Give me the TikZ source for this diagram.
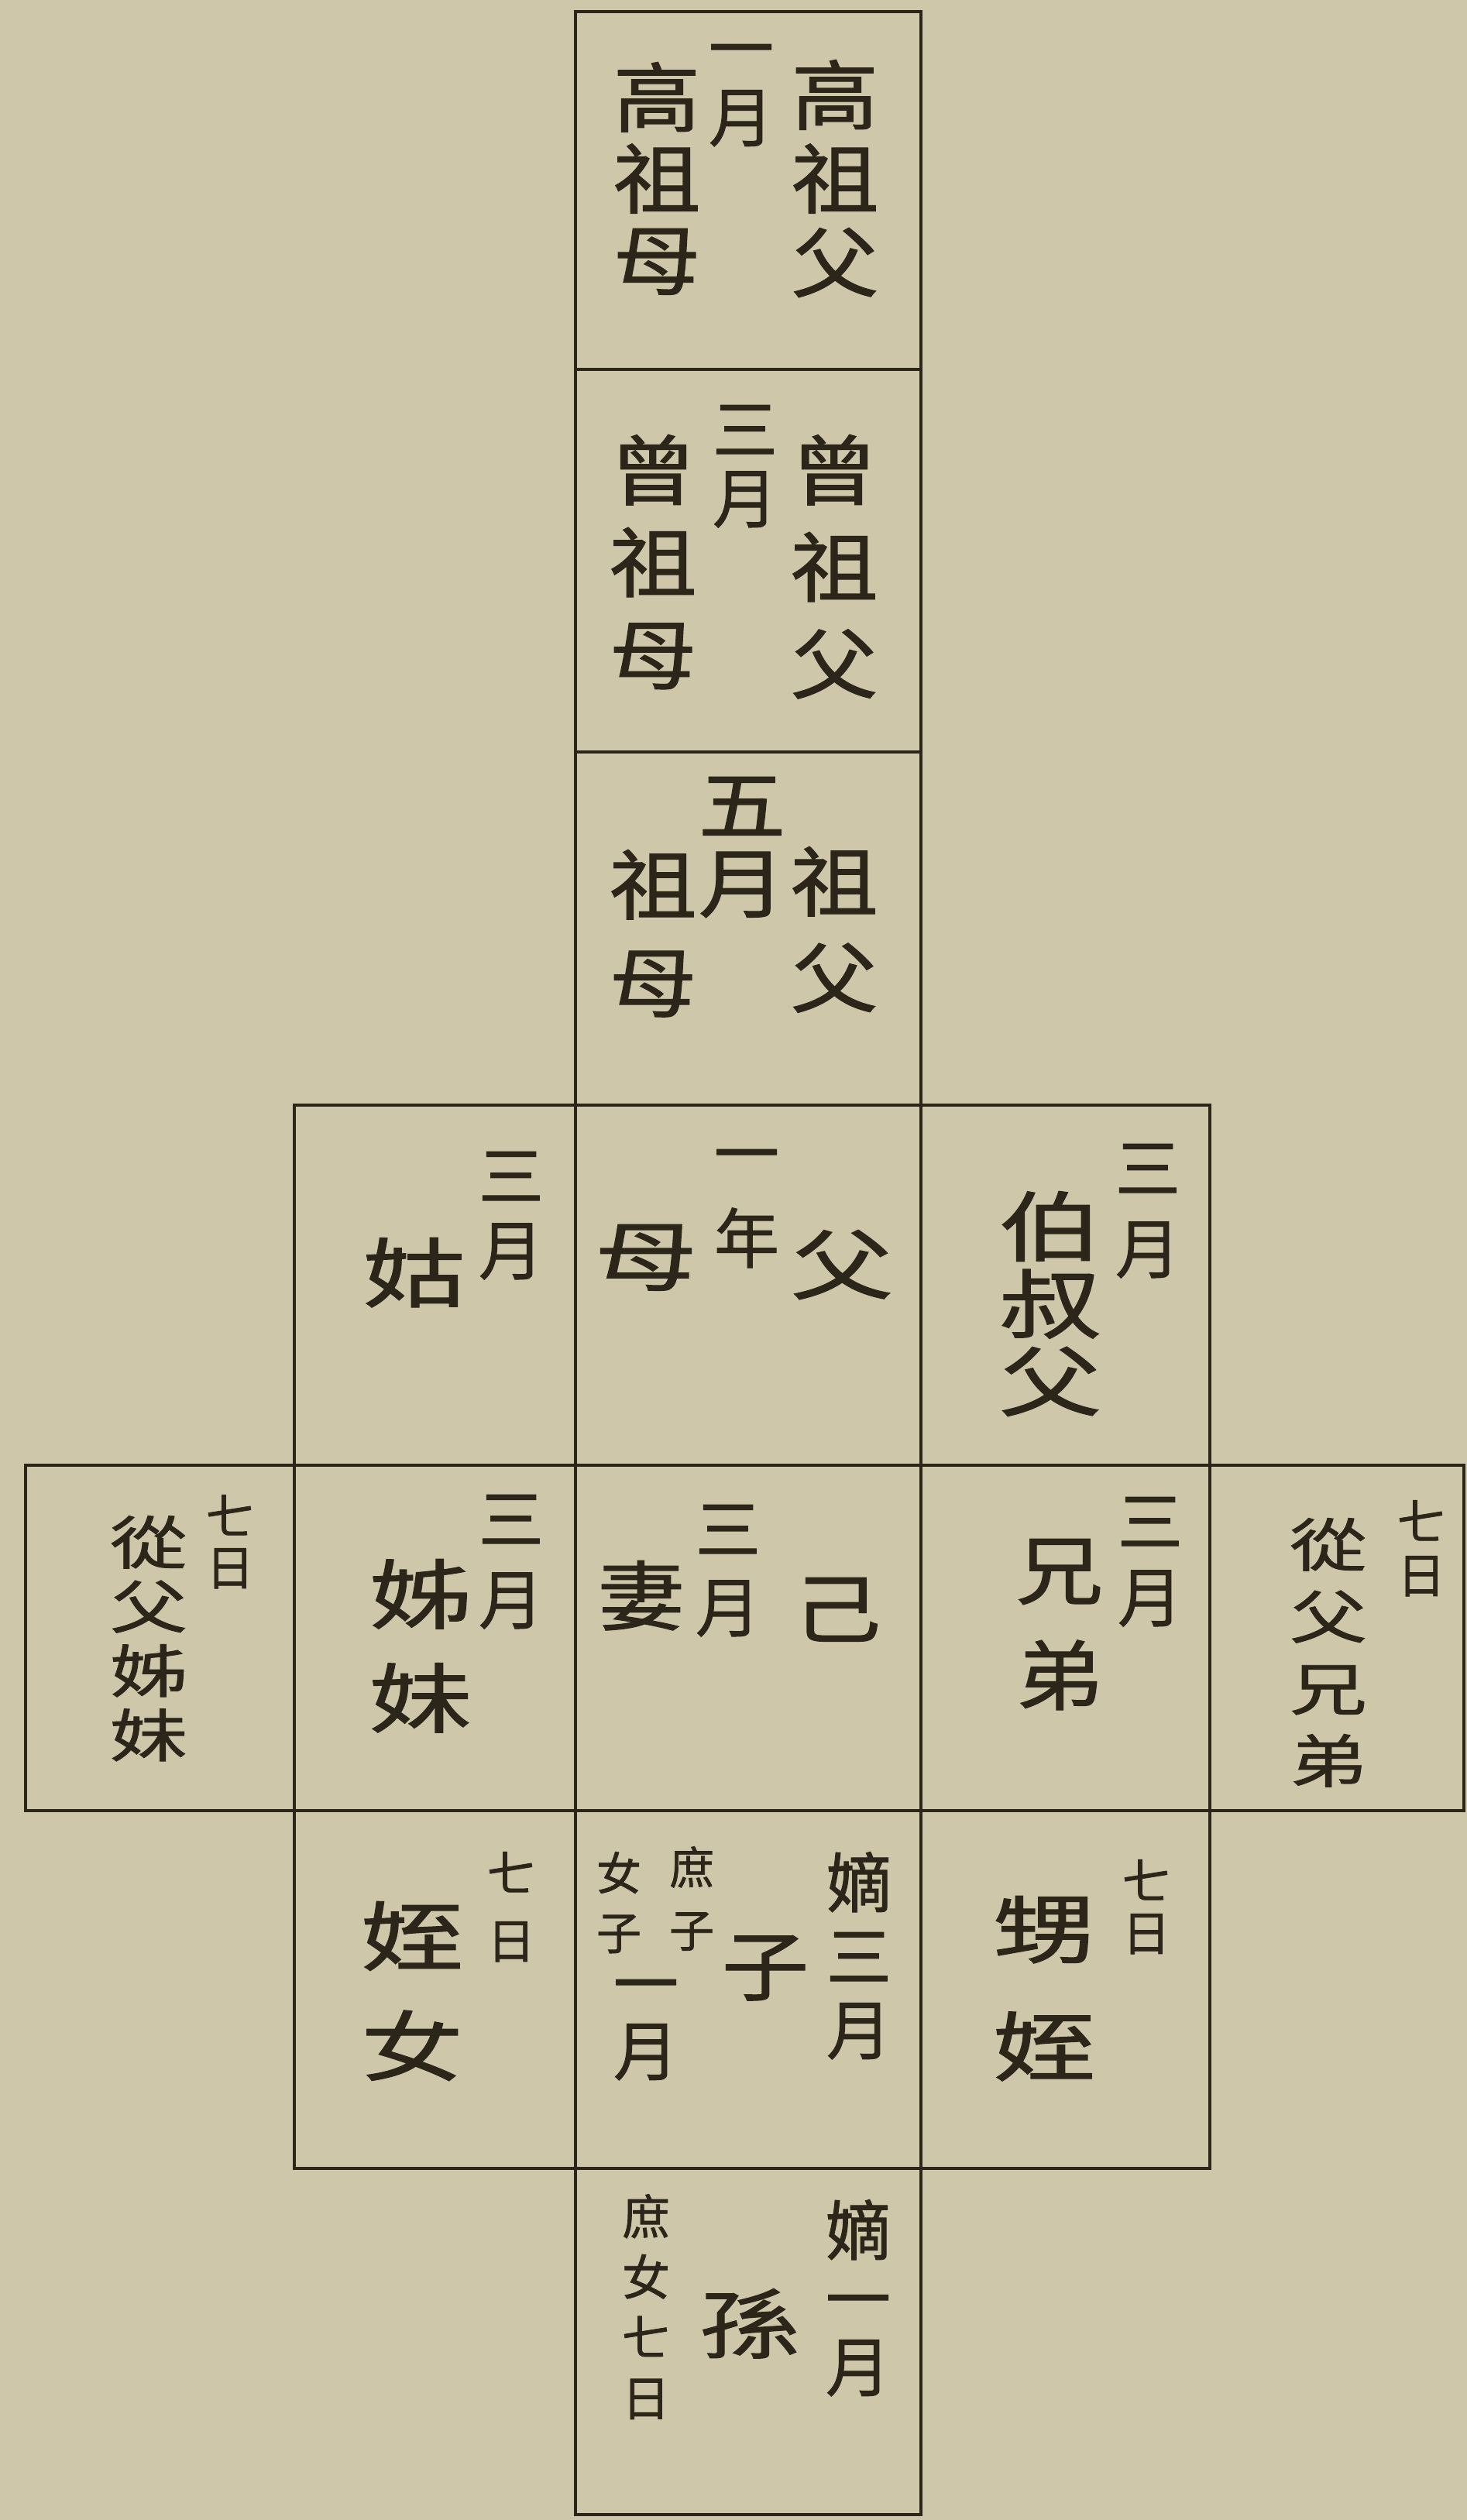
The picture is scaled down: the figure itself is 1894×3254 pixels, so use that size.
\documentclass[tikz,border=0pt]{standalone}
\usepackage{fontspec}
\newfontfamily\cjk{Noto Sans CJK TC}[FakeStretch=1.15,FakeBold=1.2]
\newfontfamily\cjkw{Noto Sans CJK TC}[FakeStretch=1.35,FakeBold=1.2]
\newfontfamily\cjkn{Noto Sans CJK TC}[FakeBold=1.2]
\definecolor{paper}{RGB}{206,199,170}
\definecolor{ink}{RGB}{44,38,26}

\tikzset{
  cell/.style={draw=ink, line width=4pt},
  col/.style={anchor=north, align=center, inner sep=0pt, text=ink},
  rel/.style={col, font=\cjk\fontsize{98}{#1}\selectfont},
  rel/.default=106,
  broad/.style={col, font=\cjkw\fontsize{98}{#1}\selectfont},
  broad/.default=106,
  kin/.style={col, font=\cjkw\fontsize{74}{#1}\selectfont},
  term/.style={col, font=\cjkn\fontsize{84}{#1}\selectfont},
  term/.default=96,
  day/.style={col, font=\cjkn\fontsize{62}{#1}\selectfont},
  note/.style={col, font=\cjkn\fontsize{58}{#1}\selectfont}
}

\begin{document}
\begin{tikzpicture}[x=1pt,y=-1pt]
        \useasboundingbox (0,0) rectangle (1894,3254);
        \fill[paper] (0,0) rectangle (1894,3254);

        % boxes
        \foreach \xa/\ya/\xb/\yb in {743/15/1189/477,743/477/1189/971,743/971/1189/1427,
          380/1427/743/1892,743/1427/1189/1892,1189/1427/1562/1892,
          33/1892/380/2338,380/1892/743/2338,743/1892/1189/2338,1189/1892/1562/2338,1562/1892/1890/2338,
          380/2338/743/2800,743/2338/1189/2800,1189/2338/1562/2800,
          743/2800/1189/3247}
        \draw[cell] (\xa,\ya) rectangle (\xb,\yb);

        % great-great-grandparents
        \node[rel=108] (gaozufu) at (1078,77) {高\\祖\\父};
        \node[term=89] (gaoyue) at (957,57) {一\\月};
        \node[rel=105] (gaozumu) at (848,80) {高\\祖\\母};

        % great-grandparents
        \node[rel=125] (zengzufu) at (1077,561) {曾\\祖\\父};
        \node[term=89] (zengyue) at (962,523) {三\\月};
        \node[rel=119] (zengzumu) at (843,561) {曾\\祖\\母};

        % grandparents
        \node[rel=124] (zufu) at (1077,1093) {祖\\父};
        \node[rel=101] (zuyue) at (958,1003) {五\\月};
        \node[rel=126] (zumu) at (843,1097) {祖\\母};

        % parents row
        \node[term=96] (guyue) at (660,1487) {三\\月};
        \node[broad] (gu) at (535,1598) {姑};
        \node[term=110] (fmnian) at (964,1484) {一\\年};
        \node[broad] (mu) at (834,1581) {母};
        \node[broad] (fu) at (1087,1588) {父};
        \node[term=104] (boyue) at (1482,1477) {三\\月};
        \node[broad=100] (boshufu) at (1356,1538) {伯\\叔\\父};

        % own row
        \node[day=66] (czzmri) at (297,1930) {七\\日};
        \node[kin=83] (czzimei) at (192,1957) {從\\父\\姊\\妹};
        \node[term=104] (zmyue) at (660,1930) {三\\月};
        \node[broad=134] (zimei) at (543,2013) {姊\\妹};
        \node[term=101] (qiyue) at (940,1943) {三\\月};
        \node[rel] (qi) at (828,2015) {妻};
        \node[rel] (ji) at (1081,2037) {己};
        \node[term=98] (xdyue) at (1485,1933) {三\\月};
        \node[rel=136] (xiongdi) at (1368,1987) {兄\\弟};
        \node[day=69] (czxdri) at (1835,1937) {七\\日};
        \node[kin=93] (czxiongdi) at (1715,1960) {從\\父\\兄\\弟};

        % children row
        \node[day=87] (znri) at (660,2391) {七\\日};
        \node[broad=142] (zhinv) at (532,2455) {姪\\女};
        \node[term=95] (diyue) at (1109,2391) {嫡\\三\\月};
        \node[rel] (zi) at (988,2499) {子};
        \node[note=81] (shuzi) at (893,2384) {庶\\子};
        \node[note=77] (nvzi) at (799,2391) {女\\子};
        \node[term=87] (shuyue) at (834,2556) {一\\月};
        \node[day=67] (szri) at (1480,2401) {七\\日};
        \node[broad=152] (shengzhi) at (1348,2448) {甥\\姪};

        % grandchildren
        \node[term=88] (sundi) at (1108,2840) {嫡\\一\\月};
        \node[broad] (sun) at (968,2955) {孫};
        \node[day=78] (sunshu) at (834,2833) {庶\\女\\七\\日};
\end{tikzpicture}
\end{document}
